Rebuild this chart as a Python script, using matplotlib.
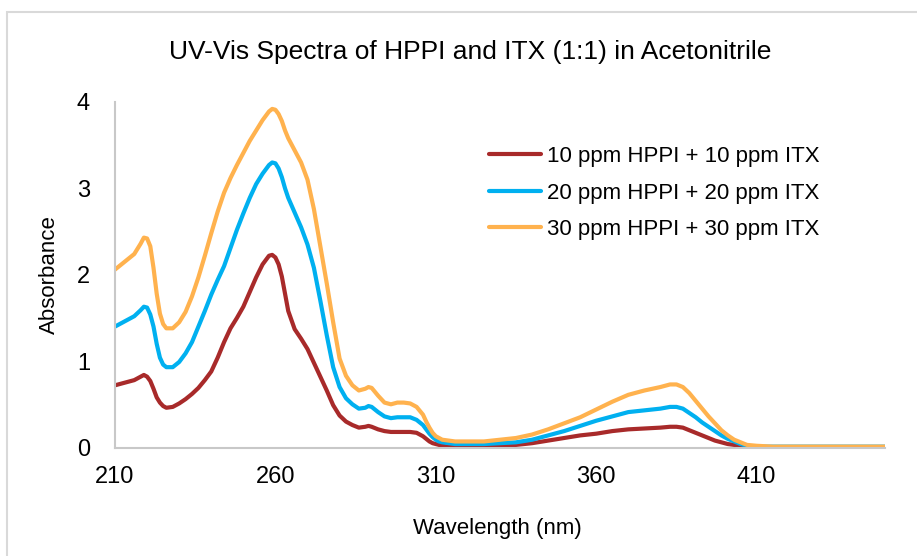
import numpy as np
import matplotlib
matplotlib.use("Agg")
import matplotlib.pyplot as plt
from matplotlib.patches import Rectangle

plt.rcParams['font.family'] = ['Liberation Sans', 'DejaVu Sans']

# ===== DATA =====
wavelength = [210, 212, 214, 216, 218, 219, 220, 221, 222, 223,
              224, 225, 226, 228, 230, 232, 234, 236, 238, 240,
              242, 244, 246, 248, 250, 252, 254, 256, 258, 259,
              260, 261, 262, 263, 264, 266, 268, 270, 272, 274,
              276, 278, 280, 282, 284, 286, 288, 289, 290, 292,
              294, 296, 298, 300, 302, 304, 306, 307, 308, 309,
              310, 311, 312, 314, 316, 320, 325, 330, 335, 340,
              345, 350, 355, 360, 365, 370, 375, 380, 383, 385,
              387, 389, 391, 393, 395, 397, 399, 401, 403, 405,
              407, 410, 415, 420, 430, 440, 450]

abs_10 = [0.72, 0.74, 0.76, 0.78, 0.82, 0.84, 0.82, 0.77, 0.68, 0.58,
          0.52, 0.48, 0.46, 0.47, 0.51, 0.56, 0.62, 0.69, 0.78, 0.88,
          1.04, 1.22, 1.38, 1.50, 1.63, 1.80, 1.97, 2.12, 2.22, 2.23,
          2.20, 2.12, 1.98, 1.78, 1.58, 1.37, 1.26, 1.14, 0.98, 0.82,
          0.66, 0.49, 0.37, 0.30, 0.26, 0.23, 0.24, 0.25, 0.24, 0.21,
          0.19, 0.18, 0.18, 0.18, 0.18, 0.17, 0.13, 0.10, 0.07, 0.05,
          0.04, 0.03, 0.02, 0.01, 0.01, 0.01, 0.01, 0.02, 0.03, 0.05,
          0.08, 0.11, 0.14, 0.16, 0.19, 0.21, 0.22, 0.23, 0.24, 0.24,
          0.23, 0.20, 0.17, 0.14, 0.11, 0.08, 0.06, 0.04, 0.03, 0.01,
          0.01, 0.00, 0.00, 0.00, 0.00, 0.00, 0.00]

abs_20 = [1.40, 1.44, 1.48, 1.52, 1.59, 1.63, 1.62, 1.54, 1.40, 1.20,
          1.04, 0.96, 0.93, 0.93, 0.99, 1.09, 1.22, 1.40, 1.58, 1.77,
          1.94, 2.10, 2.31, 2.52, 2.71, 2.89, 3.05, 3.17, 3.27, 3.30,
          3.29, 3.23, 3.13, 3.00, 2.89, 2.72, 2.55, 2.35, 2.08, 1.70,
          1.30, 0.93, 0.70, 0.57, 0.50, 0.45, 0.46, 0.48, 0.47, 0.41,
          0.36, 0.34, 0.35, 0.35, 0.35, 0.32, 0.26, 0.21, 0.16, 0.12,
          0.09, 0.07, 0.06, 0.05, 0.04, 0.04, 0.04, 0.05, 0.06, 0.09,
          0.14, 0.19, 0.25, 0.31, 0.36, 0.41, 0.43, 0.45, 0.47, 0.47,
          0.45, 0.40, 0.35, 0.29, 0.24, 0.19, 0.14, 0.10, 0.07, 0.04,
          0.02, 0.01, 0.01, 0.01, 0.01, 0.01, 0.01]

abs_30 = [2.06, 2.12, 2.18, 2.24, 2.36, 2.43, 2.42, 2.33, 2.08, 1.78,
          1.55, 1.43, 1.38, 1.38, 1.45, 1.57, 1.75, 1.97, 2.22, 2.48,
          2.73, 2.95, 3.12, 3.27, 3.41, 3.55, 3.67, 3.79, 3.89, 3.92,
          3.91, 3.86, 3.78, 3.67, 3.58, 3.44, 3.30, 3.10, 2.76, 2.33,
          1.90, 1.45, 1.03, 0.83, 0.72, 0.66, 0.68, 0.70, 0.69, 0.60,
          0.52, 0.50, 0.52, 0.52, 0.51, 0.47, 0.38, 0.30, 0.23, 0.17,
          0.13, 0.11, 0.09, 0.08, 0.07, 0.07, 0.07, 0.09, 0.11, 0.15,
          0.21, 0.28, 0.35, 0.44, 0.53, 0.61, 0.66, 0.70, 0.73, 0.73,
          0.70, 0.63, 0.54, 0.45, 0.36, 0.28, 0.20, 0.14, 0.09, 0.06,
          0.03, 0.02, 0.01, 0.01, 0.01, 0.01, 0.01]

labels = ["10 ppm HPPI + 10 ppm ITX",
          "20 ppm HPPI + 20 ppm ITX",
          "30 ppm HPPI + 30 ppm ITX"]
colors = ["#A82A2A", "#00B0F0", "#FFB24E"]

x_ticks = [210, 260, 310, 360, 410]
y_ticks = [0, 1, 2, 3, 4]

# ===== PLOT =====
fig = plt.figure(figsize=(9.17, 5.56), dpi=100)
ax = fig.add_axes([115 / 917, 1 - 447.5 / 556, 770 / 917, 345.5 / 556])

for ys, c, lab in zip([abs_10, abs_20, abs_30], colors, labels):
    ax.plot(wavelength, ys, color=c, lw=3, label=lab,
            solid_capstyle='round', solid_joinstyle='round')

ax.set_xlim(210, 450)
ax.set_ylim(0, 4)
ax.set_xticks(x_ticks)
ax.set_yticks(y_ticks)
ax.tick_params(length=0, labelsize=17, pad=13)
ax.tick_params(axis='y', pad=18)

for side in ['top', 'right']:
    ax.spines[side].set_visible(False)
for side in ['left', 'bottom']:
    ax.spines[side].set_color('#C8C8C8')
    ax.spines[side].set_linewidth(1.5)

ax.set_xlabel("Wavelength (nm)", fontsize=16)
ax.set_ylabel("Absorbance", fontsize=16)
ax.xaxis.set_label_coords(497 / 917, 1 - 518 / 556, transform=fig.transFigure)
ax.yaxis.set_label_coords(60 / 917, 1 - 275 / 556, transform=fig.transFigure)

fig.text(470 / 917, 1 - 52 / 556, "UV-Vis Spectra of HPPI and ITX (1:1) in Acetonitrile",
         fontsize=19, ha='center', va='center')

ax.legend(loc='upper left', bbox_to_anchor=(478 / 917, 1 - 135 / 556),
          bbox_transform=fig.transFigure, frameon=False, fontsize=16,
          handlelength=2.35, handletextpad=0.25, labelspacing=0.7, borderpad=0)

# light chart-area border like the spreadsheet export
fig.patches.append(Rectangle((7 / 917, -0.1), 1.2, 1 - 12 / 556 + 0.1,
                             transform=fig.transFigure, fill=False,
                             edgecolor='#D9D9D9', lw=1.5))

fig.savefig("out.png", dpi=100)
